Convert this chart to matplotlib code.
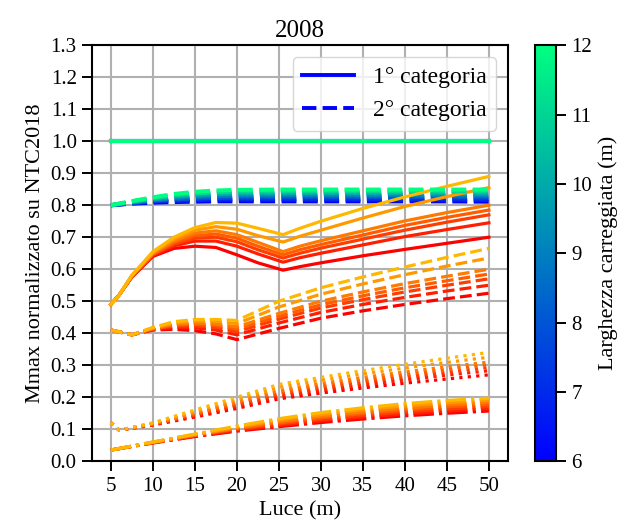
import numpy as np
import matplotlib
matplotlib.use('Agg')
import matplotlib.pyplot as plt
from matplotlib.lines import Line2D

plt.rcParams['font.family'] = ['Liberation Serif', 'DejaVu Serif']
plt.rcParams['mathtext.fontset'] = 'stix'

widths = [6, 7, 8, 9, 10, 11, 12]

# 1a categoria (solid)
x_cat1 = [5, 6, 7.5, 10, 12.5, 15, 17.5, 20, 22.5, 25.5, 27.5, 30, 35, 40, 45, 50]
m_cat1 = [
    [0.49, 0.52, 0.575, 0.640, 0.665, 0.672, 0.668, 0.645, 0.620, 0.597, 0.608, 0.620, 0.642, 0.662, 0.681, 0.700],
    [0.49, 0.52, 0.577, 0.643, 0.673, 0.688, 0.688, 0.672, 0.648, 0.622, 0.636, 0.650, 0.676, 0.702, 0.724, 0.745],
    [0.49, 0.52, 0.578, 0.645, 0.678, 0.697, 0.700, 0.686, 0.661, 0.635, 0.650, 0.666, 0.694, 0.722, 0.747, 0.770],
    [0.49, 0.52, 0.579, 0.647, 0.683, 0.705, 0.710, 0.697, 0.672, 0.645, 0.661, 0.677, 0.707, 0.737, 0.762, 0.785],
    [0.49, 0.52, 0.580, 0.649, 0.688, 0.713, 0.720, 0.708, 0.684, 0.655, 0.672, 0.689, 0.720, 0.751, 0.777, 0.800],
    [0.49, 0.52, 0.580, 0.652, 0.694, 0.722, 0.733, 0.725, 0.705, 0.685, 0.703, 0.722, 0.760, 0.796, 0.827, 0.855],
    [0.49, 0.52, 0.581, 0.655, 0.700, 0.730, 0.746, 0.744, 0.728, 0.708, 0.728, 0.750, 0.790, 0.826, 0.859, 0.890],
]

# 2a categoria (dashed)
x_cat2 = [5, 7.5, 10, 12.5, 15, 17.5, 20, 25, 30, 35, 40, 45, 50]
m_cat2 = [
    [0.41, 0.395, 0.410, 0.412, 0.408, 0.398, 0.380, 0.415, 0.447, 0.470, 0.490, 0.508, 0.525],
    [0.41, 0.395, 0.412, 0.418, 0.417, 0.410, 0.395, 0.432, 0.465, 0.490, 0.512, 0.532, 0.550],
    [0.41, 0.395, 0.413, 0.422, 0.423, 0.418, 0.405, 0.444, 0.479, 0.505, 0.529, 0.550, 0.570],
    [0.41, 0.395, 0.414, 0.425, 0.428, 0.424, 0.413, 0.453, 0.489, 0.517, 0.542, 0.564, 0.585],
    [0.41, 0.395, 0.415, 0.428, 0.432, 0.429, 0.420, 0.462, 0.500, 0.529, 0.555, 0.578, 0.600],
    [0.41, 0.395, 0.417, 0.432, 0.438, 0.437, 0.430, 0.482, 0.522, 0.554, 0.583, 0.610, 0.635],
    [0.41, 0.395, 0.418, 0.436, 0.443, 0.443, 0.440, 0.500, 0.542, 0.576, 0.607, 0.637, 0.665],
]

# dotted family
x_dot = [5, 6, 10, 15, 20, 25, 30, 35, 40, 45, 50]
m_dot = [
    [0.12, 0.097, 0.113, 0.138, 0.165, 0.195, 0.213, 0.229, 0.244, 0.257, 0.270],
    [0.12, 0.097, 0.114, 0.142, 0.171, 0.202, 0.221, 0.238, 0.254, 0.269, 0.283],
    [0.12, 0.097, 0.115, 0.145, 0.176, 0.209, 0.229, 0.246, 0.263, 0.278, 0.293],
    [0.12, 0.097, 0.116, 0.148, 0.181, 0.215, 0.236, 0.254, 0.271, 0.287, 0.302],
    [0.12, 0.097, 0.117, 0.151, 0.186, 0.221, 0.243, 0.262, 0.279, 0.295, 0.310],
    [0.12, 0.097, 0.119, 0.156, 0.193, 0.231, 0.253, 0.273, 0.291, 0.309, 0.325],
    [0.12, 0.097, 0.120, 0.160, 0.200, 0.240, 0.262, 0.283, 0.303, 0.322, 0.340],
]

# dash-dot family
x_dd = [5, 10, 15, 20, 25, 30, 35, 40, 45, 50]
m_dd = [
    [0.035, 0.057, 0.077, 0.094, 0.108, 0.121, 0.132, 0.142, 0.150, 0.157],
    [0.035, 0.058, 0.079, 0.097, 0.112, 0.126, 0.138, 0.148, 0.157, 0.164],
    [0.035, 0.058, 0.080, 0.100, 0.116, 0.131, 0.143, 0.154, 0.163, 0.171],
    [0.035, 0.059, 0.081, 0.102, 0.120, 0.136, 0.149, 0.160, 0.170, 0.177],
    [0.035, 0.059, 0.082, 0.104, 0.124, 0.140, 0.154, 0.166, 0.176, 0.184],
    [0.035, 0.060, 0.084, 0.107, 0.129, 0.146, 0.161, 0.173, 0.183, 0.191],
    [0.035, 0.060, 0.085, 0.110, 0.133, 0.152, 0.167, 0.180, 0.190, 0.197],
]

# 2a categoria vs larghezza (winter colours, dashed)
x_w2 = [5, 7.5, 10, 12.5, 15, 17.5, 20, 25, 30, 35, 40, 45, 50]
m_w2 = [
    [0.80, 0.805, 0.808, 0.810, 0.811, 0.812, 0.812, 0.812, 0.812, 0.812, 0.812, 0.812, 0.811],
    [0.80, 0.806, 0.811, 0.814, 0.816, 0.818, 0.818, 0.818, 0.818, 0.818, 0.818, 0.818, 0.817],
    [0.80, 0.807, 0.814, 0.818, 0.821, 0.823, 0.824, 0.825, 0.825, 0.825, 0.825, 0.825, 0.824],
    [0.80, 0.809, 0.816, 0.822, 0.826, 0.829, 0.830, 0.831, 0.831, 0.831, 0.831, 0.831, 0.830],
    [0.80, 0.810, 0.819, 0.826, 0.832, 0.835, 0.836, 0.837, 0.837, 0.837, 0.837, 0.837, 0.836],
    [0.80, 0.812, 0.822, 0.831, 0.837, 0.840, 0.842, 0.843, 0.843, 0.843, 0.843, 0.843, 0.843],
    [0.80, 0.813, 0.825, 0.835, 0.842, 0.846, 0.848, 0.849, 0.849, 0.849, 0.849, 0.849, 0.849],
]

# 1a categoria reference
x_w1 = [5, 50]
m_w1 = [1.0, 1.0]

fig = plt.figure(figsize=(6.3, 5.32), dpi=100)
ax = fig.add_axes([0.146, 0.133, 0.66, 0.782])
cax = fig.add_axes([0.849, 0.133, 0.034, 0.782])

norm = matplotlib.colors.Normalize(vmin=6, vmax=12)
warm = [plt.cm.autumn(v) for v in np.linspace(0, 0.72, len(widths))]
cold = [plt.cm.winter(norm(w)) for w in widths]

lw = 2.3
for i, w in enumerate(widths):
    ax.plot(x_cat1, m_cat1[i], '-', color=warm[i], lw=lw)
    ax.plot(x_cat2, m_cat2[i], '--', color=warm[i], lw=lw)
    ax.plot(x_dot, m_dot[i], ':', color=warm[i], lw=lw)
    ax.plot(x_dd, m_dd[i], '-.', color=warm[i], lw=lw)
    ax.plot(x_w2, m_w2[i], '--', color=cold[i], lw=lw + 0.6)
    ax.plot(x_w1, m_w1, '-', color=cold[i], lw=lw + 0.6)

ax.set_xticks(np.arange(5, 51, 5))
ax.set_yticks(np.arange(0, 1.31, 0.1))
ax.set_ylim(0, 1.3)
ax.grid(True, color='#b0b0b0', lw=1.5)
ax.set_axisbelow(True)
ax.tick_params(labelsize=15, length=7, width=1.4, pad=4)
for s in ax.spines.values():
    s.set_linewidth(1.5)
ax.set_xlabel('Luce (m)', fontsize=16)
ax.set_ylabel('Mmax normalizzato su NTC2018', fontsize=16)
ax.set_title('2008', fontsize=18)

handles = [Line2D([], [], color='b', lw=2.8, ls='-'),
           Line2D([], [], color='b', lw=2.8, ls='--')]
ax.legend(handles, ['1° categoria', '2° categoria'], loc='upper right',
          fontsize=17, handlelength=2.2)

sm = matplotlib.cm.ScalarMappable(norm=norm, cmap='winter')
cb = fig.colorbar(sm, cax=cax, ticks=widths)
cb.ax.tick_params(labelsize=15, length=7, width=1.4, pad=4)
cb.outline.set_linewidth(1.5)
cb.set_label('Larghezza carreggiata (m)', fontsize=16)

fig.savefig('out.png', dpi=100)
